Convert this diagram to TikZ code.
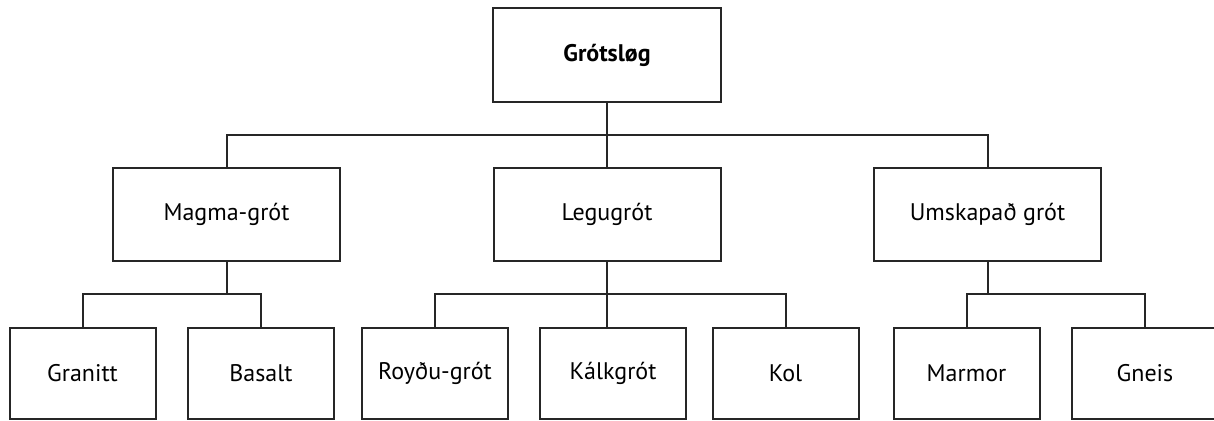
\documentclass[tikz,border=0pt]{standalone}
\usepackage{fontspec}
\setmainfont{PT Sans}
\usetikzlibrary{calc}

\tikzset{
  rockbox/.style={draw=black!85, line width=1.5pt, fill=white, font=\fontsize{18}{20}\selectfont},
  topbox/.style={rockbox, minimum width=171pt, minimum height=70.5pt, font=\fontsize{18}{20}\selectfont\bfseries},
  midbox/.style={rockbox, minimum width=170.25pt, minimum height=69.75pt},
  leafbox/.style={rockbox, minimum width=109.5pt, minimum height=68.25pt},
  link/.style={draw=black!85, line width=1.5pt}
}

\begin{document}
\begin{tikzpicture}[x=0.75pt,y=0.75pt,yscale=-1,xscale=1]
  \clip (0,0) rectangle (1214,421);

  % Text Node
  \node[topbox] (rocks) at (607,55) {Grótsløg};

  % Text Node
  \node[midbox] (magma) at (226.5,214.5) {Magma-grót};
  \node[midbox] (legu) at (607,214.5) {Legugrót};
  \node[midbox] (umsk) at (987.5,214.5) {Umskapað grót};

  % Text Node
  \node[leafbox] (granitt) at (82.5,373.5) {Granitt};
  \node[leafbox] (basalt) at (261,373.5) {Basalt};
  \node[leafbox] (roydu) at (435,373.5) {Royðu-grót};
  \node[leafbox] (kalk) at (613,373.5) {Kálkgrót};
  \node[leafbox] (kol) at (785.5,373.5) {Kol};
  \node[leafbox] (marmor) at (966.5,373.5) {Marmor};
  \node[leafbox] (gneis) at (1145,373.5) {Gneis};

  %Straight Lines
  \coordinate (busTop) at (607,135);
  \coordinate (busMagma) at (226.5,294);
  \coordinate (busLegu) at (607,294);
  \coordinate (busUmsk) at (987.5,294);

  \draw[link] (rocks.south) -- (legu.north);
  \draw[link] (magma.north) |- (busTop) -| (umsk.north);

  \draw[link] (magma.south) -- (busMagma);
  \draw[link] (granitt.north) |- (busMagma) -| (basalt.north);

  \draw[link] (legu.south) -- (legu.south |- kalk.north);
  \draw[link] (roydu.north) |- (busLegu) -| (kol.north);

  \draw[link] (umsk.south) -- (busUmsk);
  \draw[link] (marmor.north) |- (busUmsk) -| (gneis.north);
\end{tikzpicture}
\end{document}
